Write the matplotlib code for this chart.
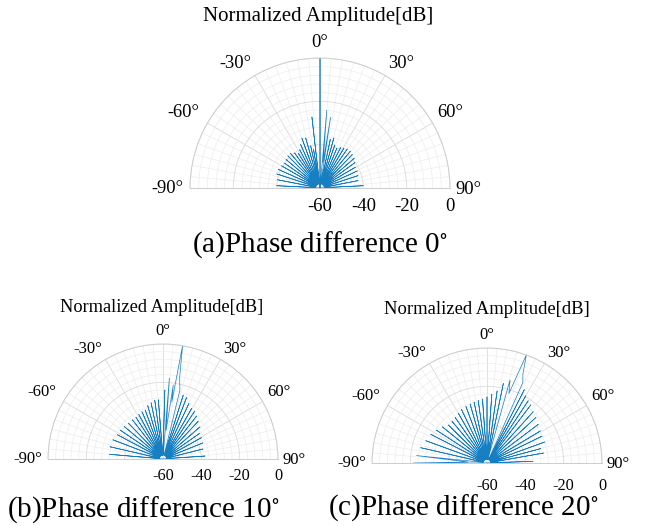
import numpy as np
import matplotlib.pyplot as plt
from matplotlib.ticker import FixedLocator, MultipleLocator
from matplotlib.transforms import offset_copy

plt.rcParams['font.family'] = ['Liberation Serif', 'DejaVu Serif']
plt.rcParams['mathtext.fontset'] = 'stix'

# ---- pattern data (angle in deg, level in dB) ----
# lobe peaks
a_peak_deg = [-87, -79, -72, -66, -60, -55, -50, -45, -40.5, -36, -32, -28, -24, -20, -16,
              -12.5, -9.5, -6.5, 0, 5, 8.5, 12, 15.5, 19, 23, 27, 31, 35, 39.5, 44,
              49, 54, 59.5, 65.5, 72, 79, 87]
a_peak_db = [-40, -40, -39, -39, -39.5, -40, -39.5, -39, -39, -40, -41, -40, -38, -35.5, -36,
             -40, -42, -27, 0, -24, -27, -37, -36, -39, -40, -39, -38.5, -38, -38, -38.5,
             -39, -40, -41, -41, -41.5, -42, -40]
# nulls between the lobes
a_null_deg = [-90, -83, -75.5, -69, -63, -57.5, -52.5, -47.5, -42.8, -38.2, -34, -30, -26, -22,
              -18, -14.2, -11, -8, -3, 2.5, 6.8, 10.2, 13.8, 17.2, 21, 25, 29, 33, 37.2,
              41.8, 46.5, 51.5, 56.8, 62.5, 68.8, 75.5, 83, 90]
a_null_db = [-60, -58, -58, -58, -58, -58, -58, -58, -58, -58, -58, -58, -58, -58,
             -58, -58, -58, -58, -60, -60, -48, -58, -58, -58, -58, -58, -58, -58, -58,
             -58, -58, -58, -58, -58, -58, -58, -58, -60]

b_peak_deg = [-85, -77, -69, -62, -56, -50, -44, -38, -33, -28.5, -24, -20, -16, -12, -8,
              -4.5, 1.5, 4.5, 7.9, 9.8, 13.8, 17.6, 21, 25, 29.5, 33.5, 38, 43, 49,
              55, 61, 68, 76, 86]
b_peak_db = [-32, -31.6, -32, -33, -33, -33.5, -34, -34, -34, -33.5, -33, -32.8, -31, -30, -29,
             -29, -24, -17.7, -21, 0, -23, -25, -25.5, -28, -29.6, -30, -31.5, -33, -34.4,
             -36.5, -37, -37.5, -38.5, -38]
b_null_deg = [-90, -81, -73, -65.5, -59, -53, -47, -41, -35.5, -30.8, -26.2, -22, -18, -14, -10,
              -6.2, -1.5, 3, 6.2, 8.8, 11.5, 15.7, 19.3, 23, 27.2, 31.5, 35.8, 40.5, 46,
              52, 58, 64.5, 72, 81, 90]
b_null_db = [-60, -58, -58, -58, -58, -58, -58, -58, -58, -58, -58, -58, -58, -58, -58,
             -58, -58, -58, -45, -30, -16.3, -58, -58, -58, -58, -58, -58, -58, -58,
             -58, -58, -58, -58, -58, -60]

c_peak_deg = [-90, -84, -77, -70, -63, -57, -51, -45.5, -40, -35, -30, -25.5, -20.5, -16, -12,
              -8, -4, 0, 4, 8, 11.6, 15.5, 20, 24, 27, 30, 33.5, 37, 42, 47,
              53, 59, 64, 70, 75, 80, 88]
c_peak_db = [-21.6, -23, -24.5, -26, -27, -28.5, -30, -31.7, -31.5, -31, -30, -29, -28.5, -28, -27.5,
             -27, -26.5, -25.5, -24, -22, -17.6, -15, 0, -14, -17, -19.5, -21, -22, -24, -25,
             -26.5, -27.5, -28, -28, -31, -30, -36]
c_null_deg = [-90, -87, -80.5, -73.5, -66.5, -60, -54, -48.2, -42.8, -37.5, -32.5, -27.8, -23, -18.2,
              -14, -10, -6, -2, 2, 6, 9.8, 13.5, 17.5, 22, 25.5, 28.5, 31.8, 35.2, 39.5,
              44.5, 50, 56, 61.5, 67, 72.5, 77.5, 84, 90]
c_null_db = [-60, -50, -58, -58, -58, -58, -58, -58, -58, -58, -58, -58, -58, -58,
             -58, -58, -58, -58, -58, -58, -58, -58, -22, -10, -58, -58, -58, -58, -58,
             -58, -58, -58, -58, -58, -58, -58, -58, -60]

theta_ticks = [-90, -60, -30, 0, 30, 60, 90]
theta_labels = ['-90°', '-60°', '-30°', '0°', '30°', '60°', '90°']
r_ticks = [-60, -40, -20, 0]
r_labels = ['-60', '-40', '-20', '0']

title_text = 'Normalized Amplitude[dB]'
captions = [r'(a)Phase difference 0$^{\circ}$',
            r'(b)Phase difference 10$^{\circ}$',
            r'(c)Phase difference 20$^{\circ}$']

LINE_COLOR = '#0072BD'
MAJOR_GRID = '#dadada'
MINOR_GRID = '#ededed'
W, H = 648, 526

# where the angle labels sit next to the rim (pixels, baseline aligned)
LABEL_OFFSETS = {-90: (-7, -5, 'right'), -60: (-8, 6, 'right'), -30: (-4, 7, 'right'),
                 0: (0, 11, 'center'), 30: (3, 7, 'left'), 60: (5, 6, 'left'),
                 90: (5, -6, 'left')}


def interleave(nulls, peaks):
    out = []
    for n, p in zip(nulls[:-1], peaks):
        out += [n, p]
    out.append(nulls[-1])
    return out


def half_polar(fig, cx, cy, R):
    # polar axes keep a square box; the half disc sits in its middle
    mid_y = cy - R / 2
    return fig.add_axes([(cx - R) / W, (H - mid_y - R) / H, 2 * R / W, 2 * R / H],
                        projection='polar')


def draw_pattern(fig, ax, null_deg, null_db, peak_deg, peak_db, tick_fs, rlab_fs,
                 scale, rlab_drop):
    ax.set_theta_zero_location('N')
    ax.set_theta_direction(-1)
    ax.set_thetamin(-90)
    ax.set_thetamax(90)

    theta = np.deg2rad(interleave(null_deg, peak_deg))
    r = np.array(interleave(null_db, peak_db))
    ax.plot(theta, r, color=LINE_COLOR, lw=0.5, alpha=0.9)
    ax.set_rlim(-60, 0)

    ax.set_xticks(np.deg2rad(theta_ticks))
    ax.set_xticklabels([])
    ax.xaxis.set_minor_locator(FixedLocator(np.deg2rad(np.arange(-90, 91, 5))))
    ax.set_yticks(r_ticks)
    ax.set_yticklabels([])
    ax.yaxis.set_minor_locator(MultipleLocator(4))
    ax.tick_params(which='both', length=0)

    ax.grid(which='minor', color=MINOR_GRID, lw=0.5)
    ax.grid(which='major', color=MAJOR_GRID, lw=0.6)
    for sp in ax.spines.values():
        sp.set_color('#cccccc')
        sp.set_linewidth(0.7)

    # angle labels around the rim
    for deg, lab in zip(theta_ticks, theta_labels):
        dx, dy, ha = LABEL_OFFSETS[deg]
        trans = offset_copy(ax.transData, fig=fig, x=dx * scale, y=dy * scale, units='dots')
        ax.text(np.deg2rad(deg), 0, lab, transform=trans, ha=ha, va='baseline',
                fontsize=tick_fs, clip_on=False)

    # radial labels under the baseline
    trans = offset_copy(ax.transData, fig=fig, y=-rlab_drop, units='dots')
    for rv, lab in zip(r_ticks, r_labels):
        ax.text(np.deg2rad(90), rv, lab, transform=trans, ha='center', va='center',
                fontsize=rlab_fs, clip_on=False)


fig = plt.figure(figsize=(W / 100, H / 100), dpi=100)

ax_a = half_polar(fig, 320, 188, 130)
ax_b = half_polar(fig, 163, 459, 115)
ax_c = half_polar(fig, 487, 463, 115)

draw_pattern(fig, ax_a, a_null_deg, a_null_db, a_peak_deg, a_peak_db, 13.3, 13.5, 1.0, 19)
draw_pattern(fig, ax_b, b_null_deg, b_null_db, b_peak_deg, b_peak_db, 12, 11.7, 0.85, 17)
draw_pattern(fig, ax_c, c_null_deg, c_null_db, c_peak_deg, c_peak_db, 12, 11.7, 0.85, 23)

fig.text(318 / W, 1 - 17 / H, title_text, ha='center', va='center', fontsize=15)
fig.text(162 / W, 1 - 308 / H, title_text, ha='center', va='center', fontsize=13.2)
fig.text(487 / W, 1 - 310 / H, title_text, ha='center', va='center', fontsize=13.4)

fig.text(320 / W, 1 - 245 / H, captions[0], ha='center', va='center', fontsize=21)
fig.text(143 / W, 1 - 510 / H, captions[1], ha='center', va='center', fontsize=21)
fig.text(463 / W, 1 - 508 / H, captions[2], ha='center', va='center', fontsize=21)

fig.savefig('out.png', dpi=100)
